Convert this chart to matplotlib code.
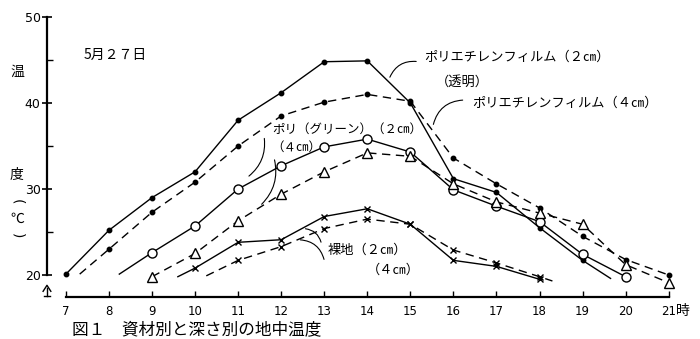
import matplotlib
matplotlib.use("Agg")
import matplotlib.pyplot as plt
import numpy as np

plt.rcParams['font.family'] = ['Noto Sans CJK JP', 'DejaVu Sans']

# soil temperature by hour (°C)
pe2_x = [7, 8, 9, 10, 11, 12, 13, 14, 15, 16, 17, 18, 19, 19.65]
pe2_y = [20.1, 25.2, 29.0, 32.0, 38.0, 41.2, 44.8, 44.9, 40.0, 31.2, 29.6, 25.5, 21.7, 19.6]

pe4_x = [7.32, 8, 9, 10, 11, 12, 13, 14, 15, 16, 17, 18, 19, 20, 21]
pe4_y = [20.1, 23.0, 27.3, 30.8, 35.0, 38.5, 40.1, 41.0, 40.2, 33.6, 30.6, 27.8, 24.5, 21.8, 20.0]

green2_x = [8.24, 9, 10, 11, 12, 13, 14, 15, 16, 17, 18, 19, 20]
green2_y = [20.1, 22.6, 25.7, 30.0, 32.7, 34.9, 35.8, 34.3, 29.9, 28.0, 26.2, 22.4, 19.8]

green4_x = [9, 10, 11, 12, 13, 14, 15, 16, 17, 18, 19, 20, 21]
green4_y = [19.8, 22.5, 26.3, 29.4, 32.0, 34.2, 33.8, 30.6, 28.5, 27.2, 25.9, 21.2, 19.1]

bare2_x = [9.6, 10, 11, 12, 13, 14, 15, 16, 17, 18]
bare2_y = [19.8, 20.8, 23.8, 24.1, 26.8, 27.7, 25.9, 21.7, 21.0, 19.5]

bare4_x = [10.26, 11, 12, 13, 14, 15, 16, 17, 18, 18.3]
bare4_y = [19.9, 21.7, 23.3, 25.4, 26.5, 25.9, 22.9, 21.4, 19.8, 19.3]

hours = list(range(7, 22))

fig = plt.figure(figsize=(7.0, 3.39), dpi=100)
ax = fig.add_axes([0.0671, 0.1239, 0.8943, 0.831])
ax.set_xlim(6.56, 21.1)
ax.set_ylim(17.44, 50.2)

dash = (0, (6, 4))
kw = dict(color='black', lw=1.0, clip_on=False)
ax.plot(pe2_x, pe2_y, '-', marker='o', ms=3.2, mfc='black',
        markevery=list(range(13)), **kw)
ax.plot(pe4_x, pe4_y, linestyle=dash, marker='o', ms=3.2, mfc='black',
        markevery=list(range(1, 15)), **kw)
ax.plot(green2_x, green2_y, '-', marker='o', ms=6.5, mfc='white',
        markevery=list(range(1, 13)), **kw)
ax.plot(green4_x, green4_y, linestyle=dash, marker='^', ms=7, mfc='white',
        **kw)
ax.plot(bare2_x, bare2_y, '-', marker='x', ms=4.5,
        markevery=list(range(1, 10)), **kw)
ax.plot(bare4_x, bare4_y, linestyle=dash, marker='x', ms=4.5,
        markevery=list(range(1, 9)), **kw)

# axes
for s in ['top', 'right']:
    ax.spines[s].set_visible(False)
ax.spines['left'].set_bounds(20, 50)
ax.spines['bottom'].set_bounds(7, 21)
ax.spines['left'].set_linewidth(1.6)
ax.spines['bottom'].set_linewidth(1.6)
ax.set_yticks([20, 30, 40, 50])
ax.set_yticks([25, 35, 45], minor=True)
ax.tick_params(axis='y', which='major', direction='inout', length=7, width=1.2,
               labelsize=9, pad=1)
ax.tick_params(axis='y', which='minor', direction='in', length=4, width=1.0)
ax.set_xticks(hours)
ax.set_xticklabels([str(h) for h in hours])
ax.tick_params(axis='x', direction='in', length=4, width=1.0, labelsize=8.5, pad=6)
for lab in ax.get_yticklabels():
    lab.set_fontfamily('DejaVu Sans')
for lab in ax.get_xticklabels():
    lab.set_fontfamily('DejaVu Sans')

# axis break mark below 20
ax.plot([6.47, 6.56, 6.65], [18.1, 18.8, 18.1], color='black', lw=1.0, clip_on=False)
ax.plot([6.56, 6.56], [18.5, 17.6], color='black', lw=1.0, clip_on=False)
ax.plot([6.48, 6.64], [17.6, 17.6], color='black', lw=1.0, clip_on=False)

# y label written vertically
fig.text(17 / 700, 1 - 72 / 339, '温', fontsize=10, ha='center', va='center')
fig.text(17 / 700, 1 - 175 / 339, '度', fontsize=10, ha='center', va='center')
fig.text(17 / 700, 1 - 202 / 339, '(', fontsize=10, ha='center', va='center',
         rotation=-90, family='DejaVu Sans')
fig.text(17 / 700, 1 - 219 / 339, '℃', fontsize=10, ha='center', va='center')
fig.text(17 / 700, 1 - 236 / 339, ')', fontsize=10, ha='center', va='center',
         rotation=-90, family='DejaVu Sans')
fig.text(683 / 700, 1 - 311 / 339, '時', fontsize=10, ha='center', va='center')

ax.text(8.14, 45.6, '5月２７日', fontsize=10, ha='center', va='center')

lab_fs = 9.5
ax.text(15.33, 45.35, 'ポリエチレンフィルム（２㎝）', fontsize=lab_fs, va='center')
ax.text(15.6, 42.4, '（透明）', fontsize=lab_fs, va='center')
ax.text(16.44, 40.0, 'ポリエチレンフィルム（４㎝）', fontsize=lab_fs, va='center')
ax.text(11.8, 36.9, 'ポリ（グリーン）（２㎝）', fontsize=lab_fs - 0.5, va='center')
ax.text(11.78, 34.8, '（４㎝）', fontsize=lab_fs - 0.5, va='center')
ax.text(13.08, 22.85, '裸地（２㎝）', fontsize=lab_fs, va='center')
ax.text(13.98, 20.5, '（４㎝）', fontsize=lab_fs, va='center')

# leader lines
lead = dict(arrowstyle='-', color='black', lw=0.8)
ax.annotate('', xy=(15.2, 44.8), xytext=(14.5, 42.7),
            arrowprops=dict(connectionstyle='arc3,rad=-0.4', **lead))
ax.annotate('', xy=(16.28, 40.35), xytext=(15.52, 37.2),
            arrowprops=dict(connectionstyle='arc3,rad=-0.4', **lead))
ax.annotate('', xy=(11.6, 36.2), xytext=(11.2, 31.3),
            arrowprops=dict(connectionstyle='arc3,rad=0.3', **lead))
ax.annotate('', xy=(11.83, 33.7), xytext=(11.5, 28.0),
            arrowprops=dict(connectionstyle='arc3,rad=0.3', **lead))
ax.annotate('', xy=(12.94, 23.5), xytext=(12.5, 25.4),
            arrowprops=dict(connectionstyle='arc3,rad=-0.4', **lead))
ax.annotate('', xy=(13.01, 21.5), xytext=(12.38, 24.1),
            arrowprops=dict(connectionstyle='arc3,rad=-0.4', **lead))

fig.text(72 / 700, 1 - 330 / 339, '図１　資材別と深さ別の地中温度', fontsize=12,
         ha='left', va='center')

fig.savefig('out.png', dpi=100)
